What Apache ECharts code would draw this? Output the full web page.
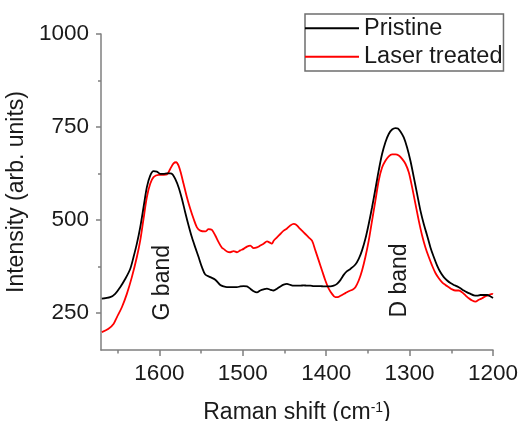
<!DOCTYPE html>
<html>
<head>
<meta charset="utf-8">
<script src="https://cdn.jsdelivr.net/npm/echarts@6/dist/echarts.min.js"></script>
<style>
  html, body { margin: 0; padding: 0; background: #fff; }
  #chart { width: 521px; height: 421px; }
</style>
</head>
<body>
<div id="chart"></div>
<script>
// Raman spectra: pristine vs. laser treated sample
const pristineShift = [1669,1659,1653,1647,1641,1635,1631,1627,1623,1619,1615,1611,1607,1603,1599,1595,1591,1587,1584,1581,1577,1573,1569,1565,1561,1557,1553,1549,1545,1539,1533,1527,1523,1519,1515,1511,1507,1503,1499,1495,1491,1487,1483,1479,1475,1471,1467,1463,1459,1455,1451,1447,1443,1439,1435,1431,1427,1423,1419,1415,1411,1407,1403,1399,1395,1391,1387,1383,1379,1375,1371,1365,1361,1357,1353,1349,1345,1341,1337,1333,1329,1325,1321,1317,1314,1311,1307,1303,1299,1295,1291,1287,1283,1279,1275,1271,1267,1263,1259,1255,1251,1247,1243,1239,1235,1231,1227,1223,1219,1215,1211,1207,1203,1200];
const pristineIntensity = [288,292,301,319,341,368,400,436,480,534,588,619,631,630,624,624,625,625,622,610,588,557,520,485,453,426,400,373,353,346,339,325,321,319,319,319,319,321,322,321,315,308,305,310,313,315,312,310,315,321,326,328,325,323,323,323,324,323,323,322,322,322,321,321,321,323,328,338,352,362,368,380,395,418,449,489,534,583,633,677,709,731,743,747,746,738,722,695,659,615,570,525,489,458,426,400,377,359,346,337,330,325,321,316,310,305,301,297,296,298,298,298,294,290];

const laserShift = [1669,1661,1655,1651,1645,1639,1633,1627,1623,1619,1615,1611,1607,1601,1595,1591,1587,1583,1580,1577,1574,1571,1567,1563,1559,1555,1551,1545,1541,1537,1533,1529,1525,1523,1519,1515,1511,1507,1503,1499,1495,1491,1487,1483,1479,1475,1471,1467,1465,1463,1459,1455,1451,1447,1443,1439,1436,1433,1429,1425,1421,1417,1413,1409,1405,1401,1397,1393,1389,1385,1381,1377,1373,1368,1365,1361,1357,1353,1349,1345,1341,1337,1333,1329,1325,1321,1317,1313,1309,1305,1301,1297,1293,1289,1285,1281,1277,1273,1269,1265,1261,1257,1253,1249,1245,1241,1237,1233,1229,1225,1221,1217,1213,1209,1205,1201,1200];
const laserIntensity = [198,207,220,238,265,301,346,400,444,503,561,597,615,621,621,622,637,652,655,646,624,597,561,530,503,480,471,469,475,473,458,440,425,422,415,413,416,413,418,422,428,431,424,426,431,436,442,438,436,444,453,462,471,477,485,489,487,480,471,462,453,444,418,391,364,337,315,301,292,293,298,303,308,313,319,337,364,400,444,498,552,606,641,659,671,676,676,673,664,651,628,588,543,498,458,426,400,377,357,343,332,325,319,313,310,310,305,297,289,283,280,285,289,295,298,301,300];

// Axis tick positions
const xMajorTicks = [1200, 1300, 1400, 1500, 1600];
const xMinorTicks = [1250, 1350, 1450, 1550, 1650];
const yMajorTicks = [250, 500, 750, 1000];
const yMinorTicks = [375, 625, 875];

const seriesNames = ['Pristine', 'Laser treated'];
const bandLabels = [
  { text: 'G band', shift: 1596, intensity: 331 },
  { text: 'D band', shift: 1312, intensity: 337 }
];

const FONT = '"Liberation Sans", Arial, sans-serif';
const AXIS_COLOR = '#7f7f7f';
const TEXT_COLOR = '#1a1a1a';

const X_MIN = 1200, X_MAX = 1670;
const Y_MIN = 150, Y_MAX = 1000;

const pairs = (xs, ys) => xs.map((x, i) => [x, ys[i]]);
const plain = v => String(v);

const chart = echarts.init(document.getElementById('chart'), null, { renderer: 'canvas' });

const baseX = {
  type: 'value', min: X_MIN, max: X_MAX, inverse: true,
  position: 'bottom', splitLine: { show: false }
};
const baseY = {
  type: 'value', min: Y_MIN, max: Y_MAX,
  position: 'left', splitLine: { show: false }
};

chart.setOption({
  animation: false,
  backgroundColor: '#ffffff',
  grid: { left: 101, right: 28, top: 34, bottom: 71, outerBoundsMode: 'none' },
  legend: {
    data: seriesNames,
    orient: 'vertical',
    left: 305, top: 14,
    padding: [0, 1, 0, 0],
    itemGap: 0,
    icon: 'rect',
    itemWidth: 54,
    itemHeight: 1.8,
    borderColor: '#6e6e6e',
    borderWidth: 1.5,
    textStyle: { fontFamily: FONT, fontSize: 23.5, color: TEXT_COLOR, lineHeight: 28.5 }
  },
  xAxis: [
    Object.assign({}, baseX, {
      name: 'Raman shift (cm{sup|-1})',
      nameLocation: 'middle',
      nameGap: 51,
      nameTextStyle: {
        fontFamily: FONT, fontSize: 23, color: TEXT_COLOR,
        rich: { sup: { fontFamily: FONT, fontSize: 14, color: TEXT_COLOR, verticalAlign: 'top', padding: [0, 0, 10, 0] } }
      },
      axisLine: { onZero: false, lineStyle: { color: AXIS_COLOR, width: 1.5 } },
      axisTick: { show: true, inside: false, length: 6, customValues: xMajorTicks, lineStyle: { color: AXIS_COLOR, width: 1.5 } },
      axisLabel: { customValues: xMajorTicks, formatter: plain, margin: 12, fontFamily: FONT, fontSize: 22.5, color: TEXT_COLOR }
    }),
    Object.assign({}, baseX, {
      axisLine: { show: false, onZero: false },
      axisTick: { show: true, inside: false, length: 3.5, customValues: xMinorTicks, lineStyle: { color: AXIS_COLOR, width: 1.5 } },
      axisLabel: { show: false }
    })
  ],
  yAxis: [
    Object.assign({}, baseY, {
      name: 'Intensity (arb. units)',
      nameLocation: 'middle',
      nameGap: 62,
      nameTextStyle: { fontFamily: FONT, fontSize: 23, color: TEXT_COLOR },
      axisLine: { show: true, onZero: false, lineStyle: { color: AXIS_COLOR, width: 1.5 } },
      axisTick: { show: true, inside: false, length: 5, customValues: yMajorTicks, lineStyle: { color: AXIS_COLOR, width: 1.5 } },
      axisLabel: { customValues: yMajorTicks, formatter: plain, margin: 12, fontFamily: FONT, fontSize: 22.5, color: TEXT_COLOR }
    }),
    Object.assign({}, baseY, {
      axisLine: { show: false, onZero: false },
      axisTick: { show: true, inside: false, length: 3, customValues: yMinorTicks, lineStyle: { color: AXIS_COLOR, width: 1.5 } },
      axisLabel: { show: false }
    })
  ],
  series: [
    {
      name: seriesNames[0],
      type: 'line',
      xAxisIndex: 0, yAxisIndex: 0,
      data: pairs(pristineShift, pristineIntensity),
      symbol: 'none',
      smooth: 0.3,
      clip: true,
      lineStyle: { color: '#000000', width: 1.8 },
      itemStyle: { color: '#000000' },
      z: 3,
      markPoint: {
        symbol: 'circle', symbolSize: 0,
        label: {
          show: true, rotate: 90, position: 'inside',
          fontFamily: FONT, fontSize: 23, color: TEXT_COLOR,
          formatter: p => p.name
        },
        data: bandLabels.map(b => ({ name: b.text, coord: [b.shift, b.intensity] }))
      }
    },
    {
      name: seriesNames[1],
      type: 'line',
      xAxisIndex: 0, yAxisIndex: 0,
      data: pairs(laserShift, laserIntensity),
      symbol: 'none',
      smooth: 0.3,
      clip: true,
      lineStyle: { color: '#ff0000', width: 1.8 },
      itemStyle: { color: '#ff0000' },
      z: 2
    }
  ]
});
</script>
</body>
</html>
